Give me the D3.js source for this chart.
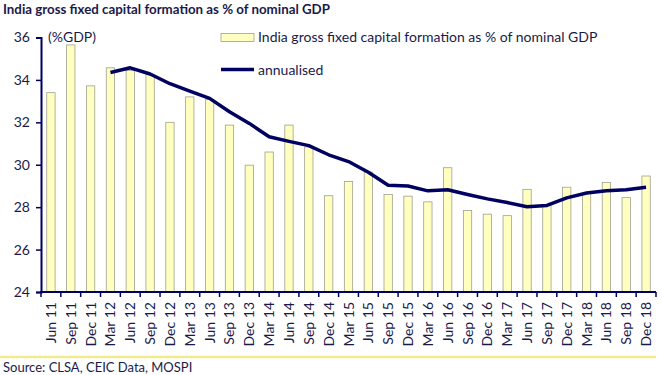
<!DOCTYPE html>
<html>
<head>
<meta charset="utf-8">
<script src="https://cdn.jsdelivr.net/npm/d3@7"></script>
<style>
  body { margin: 0; background: #fff; }
  text { font-family: Lato, "Open Sans", sans-serif; fill: #1a1a4a; }
</style>
</head>
<body>
<div id="chart"></div>
<script>
var quarters = ["Jun 11", "Sep 11", "Dec 11", "Mar 12", "Jun 12", "Sep 12", "Dec 12", "Mar 13",
  "Jun 13", "Sep 13", "Dec 13", "Mar 14", "Jun 14", "Sep 14", "Dec 14", "Mar 15",
  "Jun 15", "Sep 15", "Dec 15", "Mar 16", "Jun 16", "Sep 16", "Dec 16", "Mar 17",
  "Jun 17", "Sep 17", "Dec 17", "Mar 18", "Jun 18", "Sep 18", "Dec 18"];

// quarterly GFCF as % of GDP
var gfcf = [33.4, 35.65, 33.72, 34.57, 34.45, 34.25, 32.0, 33.2,
  33.07, 31.87, 29.98, 30.6, 31.87, 30.84, 28.54, 29.21,
  29.65, 28.6, 28.52, 28.25, 29.86, 27.84, 27.67, 27.6,
  28.84, 28.1, 28.94, 28.64, 29.16, 28.45, 29.47];

// annualised, starts at Mar 12
var annualised = [null, null, null, 34.35, 34.57, 34.28, 33.82, 33.47,
  33.13, 32.5, 31.95, 31.32, 31.1, 30.9, 30.47, 30.15,
  29.65, 29.03, 29.0, 28.77, 28.82, 28.6, 28.39, 28.22,
  28.02, 28.08, 28.44, 28.67, 28.77, 28.82, 28.94];

var yTicks = [24, 26, 28, 30, 32, 34, 36];

var width = 662, height = 375;
var plotLeft = 41, plotRight = 656, plotTop = 37.5, plotBottom = 292;

var svg = d3.select("#chart").append("svg")
  .attr("width", width)
  .attr("height", height);

var x = d3.scaleBand().domain(quarters).range([plotLeft, plotRight]).paddingInner(0.58).paddingOuter(0.29);
var xEdge = d3.scaleLinear().domain([0, quarters.length]).range([plotLeft, plotRight]);
var y = d3.scaleLinear().domain([24, 36]).range([plotBottom, plotTop]);

// title
svg.append("text")
  .attr("x", 3).attr("y", 14)
  .style("font-weight", "bold").style("font-size", "13.3px")
  .text("India gross fixed capital formation as % of nominal GDP");

// bars
svg.selectAll("rect.bar")
  .data(gfcf)
  .enter().append("rect")
  .attr("class", "bar")
  .attr("x", function (d, i) { return x(quarters[i]); })
  .attr("y", function (d) { return y(d); })
  .attr("width", x.bandwidth())
  .attr("height", function (d) { return y(24) - y(d); })
  .style("fill", "#ffffc0")
  .style("stroke", "#a0a090")
  .style("stroke-width", 0.8);

// annualised line
var line = d3.line()
  .defined(function (d) { return d != null; })
  .x(function (d, i) { return x(quarters[i]) + x.bandwidth() / 2; })
  .y(function (d) { return y(d); });

svg.append("path")
  .datum(annualised)
  .attr("d", line)
  .style("fill", "none")
  .style("stroke", "#000060")
  .style("stroke-width", 3.5)
  .style("stroke-linejoin", "round");

// y axis
var yAxis = d3.axisLeft(y).tickValues(yTicks).tickSize(5).tickPadding(6).tickFormat(d3.format("d"));
var gy = svg.append("g").attr("transform", "translate(" + plotLeft + ",0)").call(yAxis);
gy.select(".domain").style("stroke", "#000060").style("stroke-width", 2);
gy.selectAll(".tick line").style("stroke", "#000060").style("stroke-width", 1.5);
gy.selectAll(".tick text").style("font-size", "14px").style("fill", "#1a1a4a")
  .style("font-family", "Lato, sans-serif");

// x axis
var gx = svg.append("g").attr("transform", "translate(0," + plotBottom + ")");
gx.append("line")
  .attr("x1", plotLeft - 1).attr("x2", plotRight)
  .style("stroke", "#000060").style("stroke-width", 2);
gx.selectAll("line.tick")
  .data(d3.range(quarters.length + 1))
  .enter().append("line")
  .attr("class", "tick")
  .attr("x1", function (d) { return xEdge(d); })
  .attr("x2", function (d) { return xEdge(d); })
  .attr("y1", 0).attr("y2", 5)
  .style("stroke", "#000060").style("stroke-width", 1.5);
gx.selectAll("text")
  .data(quarters)
  .enter().append("text")
  .attr("transform", function (d) { return "translate(" + (x(d) + x.bandwidth() / 2 + 5) + ",10) rotate(-90)"; })
  .style("text-anchor", "end")
  .style("font-size", "14px")
  .text(function (d) { return d; });

// unit label
svg.append("text")
  .attr("x", 48).attr("y", 42)
  .style("font-size", "14px")
  .text("(%GDP)");

// legend
svg.append("rect")
  .attr("x", 221).attr("y", 33.5).attr("width", 33).attr("height", 8)
  .style("fill", "#ffffc0").style("stroke", "#a0a090").style("stroke-width", 0.8);
svg.append("text")
  .attr("x", 258).attr("y", 42)
  .style("font-size", "14px")
  .text("India gross fixed capital formation as % of nominal GDP");
svg.append("line")
  .attr("x1", 221).attr("x2", 254).attr("y1", 69.5).attr("y2", 69.5)
  .style("stroke", "#000060").style("stroke-width", 3.5);
svg.append("text")
  .attr("x", 258).attr("y", 75)
  .style("font-size", "14px")
  .text("annualised");

// separator
svg.append("line")
  .attr("x1", 0).attr("x2", 656).attr("y1", 357).attr("y2", 357)
  .style("stroke", "#f2ea8c").style("stroke-width", 2.5);

// source
svg.append("text")
  .attr("x", 3).attr("y", 372)
  .style("font-size", "13px")
  .text("Source: CLSA, CEIC Data, MOSPI");
</script>
</body>
</html>
